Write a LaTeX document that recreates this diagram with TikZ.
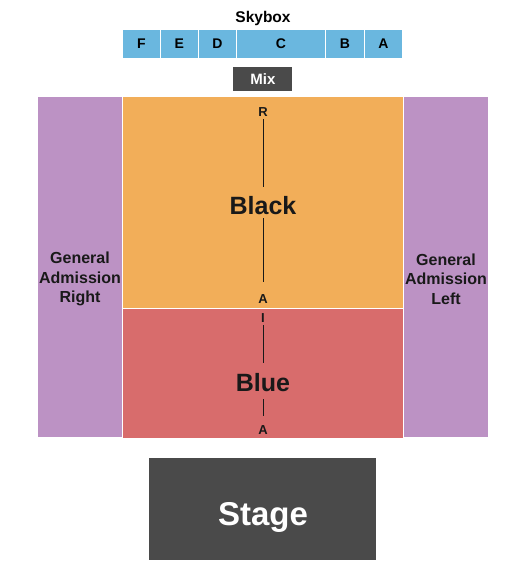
\documentclass[tikz,border=0pt]{standalone}
\usepackage{fontspec}
\setmainfont{Liberation Sans}
\usetikzlibrary{positioning}
\definecolor{skyblue}{HTML}{6AB7DF}
\definecolor{mixgray}{HTML}{4A4A4A}
\definecolor{blackorange}{HTML}{F2AE59}
\definecolor{bluered}{HTML}{D86C6C}
\definecolor{gapurple}{HTML}{BC92C4}
\tikzset{
  section/.style={rectangle, anchor=north west, inner sep=0pt, draw=white, line width=0.8pt},
  sky/.style={section, fill=skyblue, minimum height=29pt, font=\bfseries\fontsize{14}{14}\selectfont},
  ga/.style={section, fill=gapurple, minimum width=85pt, minimum height=341pt},
  galabel/.style={font=\bfseries\fontsize{16}{19.5}\selectfont, align=center, text=black!90},
  seclabel/.style={font=\bfseries\fontsize{25}{25}\selectfont, anchor=base, inner sep=0pt,
                   text height=18pt, text depth=0pt, text=black!90},
  rowlabel/.style={font=\bfseries\fontsize{13}{13}\selectfont, anchor=base, inner sep=0pt,
                   text height=10pt, text depth=0pt, text=black!90},
  aisle/.style={line width=0.8pt, black!90},
}

\begin{document}
\begin{tikzpicture}[x=1pt, y=-1pt]
  \useasboundingbox (0,0) rectangle (525,575);

  % skybox row
  \node[anchor=base, font=\bfseries\fontsize{15.5}{15.5}\selectfont] (skybox) at (263,23) {Skybox};
  \node[sky, minimum width=38pt] (boxF) at (122,29) {F};
  \node[sky, minimum width=38pt] (boxE) at (160,29) {E};
  \node[sky, minimum width=38pt] (boxD) at (198,29) {D};
  \node[sky, minimum width=89pt] (boxC) at (236,29) {C};
  \node[sky, minimum width=39pt] (boxB) at (325,29) {B};
  \node[sky, minimum width=38pt] (boxA) at (364,29) {A};

  \node[section, draw=none, fill=mixgray, minimum width=59pt, minimum height=24pt,
        text=white, font=\bfseries\fontsize{15}{15}\selectfont] (mix) at (233,67) {Mix};

  % floor sections
  \node[ga] (gaRight) at (37,96) {};
  \node[ga] (gaLeft) at (403,96) {};
  \node[section, fill=blackorange, minimum width=281pt, minimum height=212pt] (black) at (122,96) {};
  \node[section, fill=bluered, minimum width=281pt, minimum height=130pt] (blue) at (122,308) {};

  \node[galabel] (gaRightText) at (80,279) {General\\Admission\\Right};
  \node[galabel] (gaLeftText) at (446,279) {General\\Admission\\Left};

  \node[seclabel] (blackText) at (263,214) {Black};
  \node[seclabel] (blueText) at (263,391) {Blue};

  \node[rowlabel] (rowR) at (263,117) {R};
  \node[rowlabel] (rowA1) at (263,303) {A};
  \node[rowlabel] (rowI) at (263,322) {I};
  \node[rowlabel] (rowA2) at (263,434) {A};

  \draw[aisle, shorten <=2pt, shorten >=9pt] (rowR) -- (blackText);
  \draw[aisle, shorten <=4pt, shorten >=11pt] (blackText) -- (rowA1);
  \draw[aisle, shorten <=3pt, shorten >=10pt] (rowI) -- (blueText);
  \draw[aisle, shorten <=8pt, shorten >=8pt] (blueText) -- (rowA2);

  % stage
  \node[section, draw=none, fill=mixgray, minimum width=227pt, minimum height=102pt] (stage) at (149,458) {};
  \node[anchor=base, text=white, font=\bfseries\fontsize{33}{33}\selectfont] (stageText) at (263,525) {Stage};
\end{tikzpicture}
\end{document}
